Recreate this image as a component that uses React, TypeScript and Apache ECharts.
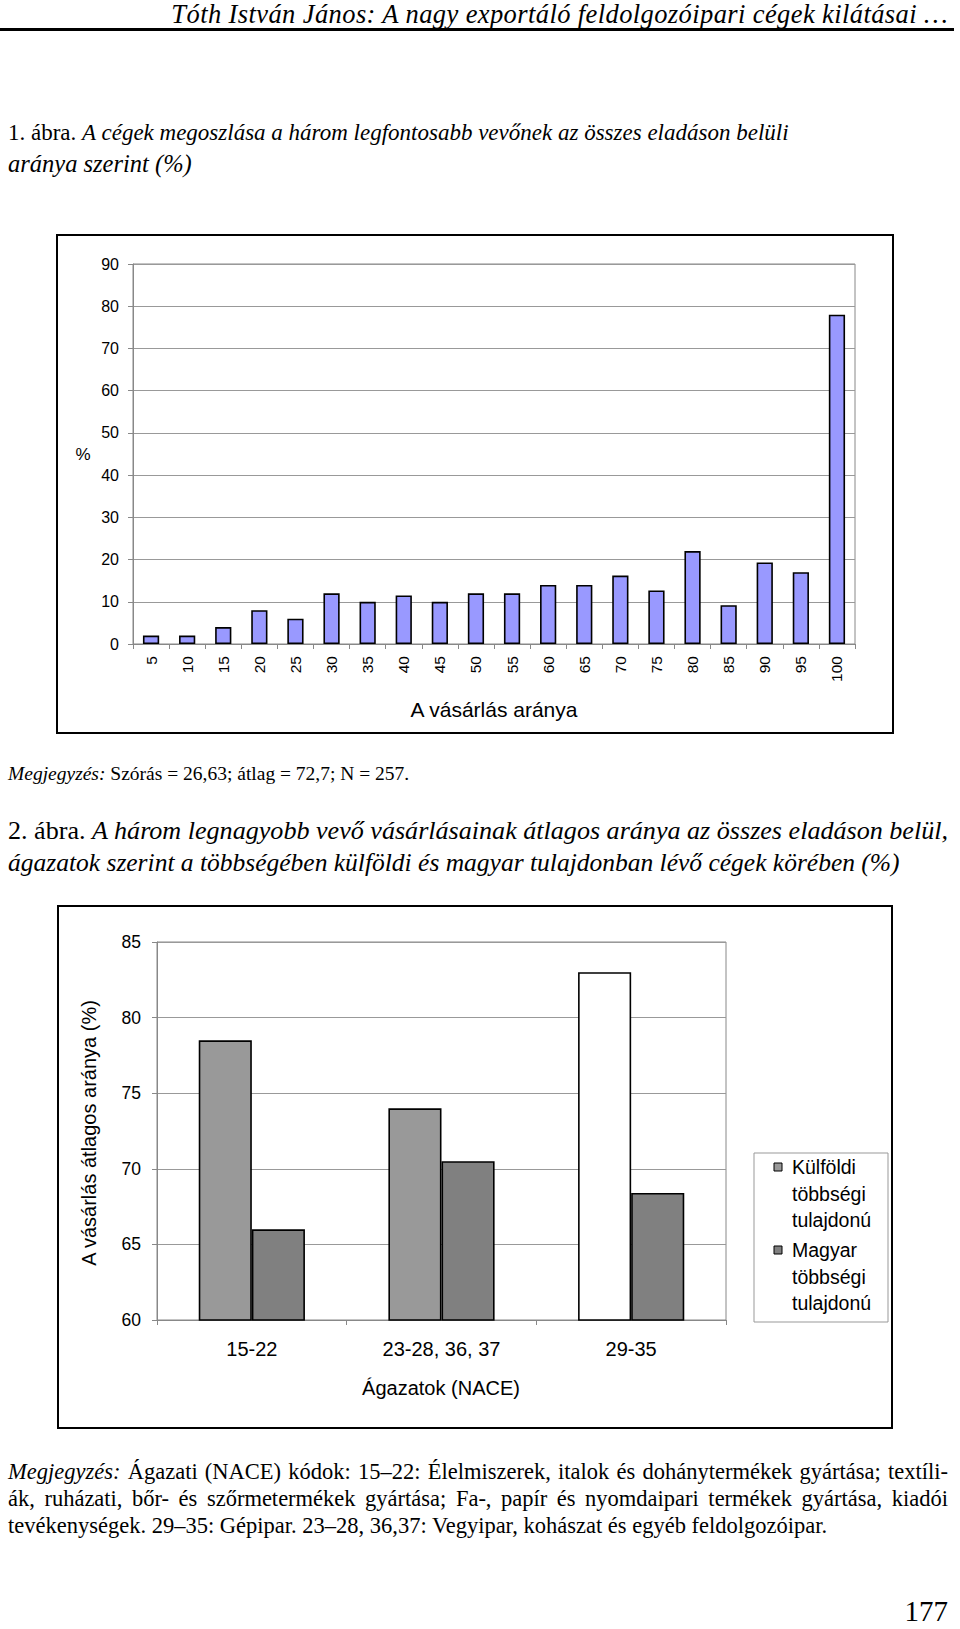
import React, { useEffect, useRef } from "react";
import * as echarts from "echarts";

// ---- Figure 1 data ----
const fig1Categories = ["5", "10", "15", "20", "25", "30", "35", "40", "45", "50", "55", "60", "65", "70", "75", "80", "85", "90", "95", "100"];
const fig1Values = [2, 2, 4, 8, 6, 12, 10, 11.5, 10, 12, 12, 14, 14, 16.2, 12.7, 22, 9.2, 19.3, 17, 78];
const fig1YMin = 0;
const fig1YMax = 90;
const fig1YStep = 10;

// ---- Figure 2 data ----
const fig2Categories = ["15-22", "23-28, 36, 37", "29-35"];
const fig2Foreign = [78.5, 74, 83];
const fig2Hungarian = [66, 70.5, 68.4];
const fig2SeriesNames = ["Külföldi többségi tulajdonú", "Magyar többségi tulajdonú"];
const fig2LegendLines = [["Külföldi", "többségi", "tulajdonú"], ["Magyar", "többségi", "tulajdonú"]];
const fig2YMin = 60;
const fig2YMax = 85;
const fig2YStep = 5;

const SANS = '"Liberation Sans", Arial, sans-serif';
const SERIF = '"Liberation Serif", "Times New Roman", serif';

function Chart1() {
  const ref = useRef<HTMLDivElement>(null);
  useEffect(() => {
    const chart = echarts.init(ref.current!, null, { renderer: "svg" });
    chart.setOption({
      animation: false,
      textStyle: { fontFamily: SANS },
      grid: { left: 77, top: 30, right: 39, bottom: 90, show: true, borderColor: "#888", borderWidth: 1 },
      xAxis: {
        type: "category",
        data: fig1Categories,
        axisLine: { lineStyle: { color: "#888", width: 1 } },
        axisTick: { show: true, length: 5, lineStyle: { color: "#888" } },
        axisLabel: { rotate: 90, fontSize: 15.5, color: "#000", margin: 12, fontFamily: SANS },
      },
      yAxis: {
        type: "value",
        min: fig1YMin,
        max: fig1YMax,
        interval: fig1YStep,
        axisLine: { show: true, lineStyle: { color: "#888", width: 1 } },
        axisTick: { show: true, length: 5, lineStyle: { color: "#888" } },
        axisLabel: { fontSize: 16, color: "#000", margin: 14, fontFamily: SANS },
        splitLine: { lineStyle: { color: "#999", width: 1 } },
      },
      series: [
        {
          type: "bar",
          name: "A vásárlás aránya",
          data: fig1Values,
          barCategoryGap: "55%",
          itemStyle: { color: "#9999FF", borderColor: "#000", borderWidth: 1.6 },
        },
      ],
      graphic: [
        { type: "rect", shape: { x: 1, y: 1, width: 836, height: 498 }, style: { fill: "none", stroke: "#000", lineWidth: 2 }, silent: true },
        { type: "text", x: 27, y: 220, style: { text: "%", fontSize: 17, fontFamily: SANS, fill: "#000", align: "center", verticalAlign: "middle" } },
        { type: "text", x: 438, y: 475, style: { text: "A vásárlás aránya", fontSize: 21, fontFamily: SANS, fill: "#000", align: "center", verticalAlign: "middle" } },
      ],
    });
    return () => chart.dispose();
  }, []);
  return <div ref={ref} style={{ position: "absolute", left: 56, top: 234, width: 838, height: 500 }} />;
}

function Chart2() {
  const ref = useRef<HTMLDivElement>(null);
  useEffect(() => {
    const chart = echarts.init(ref.current!, null, { renderer: "svg" });
    const legendGraphics: any[] = [
      { type: "rect", shape: { x: 697, y: 248, width: 134, height: 169 }, style: { fill: "#fff", stroke: "#999", lineWidth: 1 } },
    ];
    const markerColors = ["#999999", "#808080"];
    const firstLineY = [262, 345];
    fig2LegendLines.forEach((lines, i) => {
      legendGraphics.push({
        type: "rect",
        shape: { x: 717, y: firstLineY[i] - 4, width: 8, height: 8 },
        style: { fill: markerColors[i], stroke: "#000", lineWidth: 1 },
      });
      legendGraphics.push({
        type: "text",
        x: 735,
        y: firstLineY[i] - 13,
        style: { text: lines.join("\n"), fontSize: 19.5, lineHeight: 26.5, fontFamily: SANS, fill: "#000", align: "left", verticalAlign: "top" },
      });
    });
    chart.setOption({
      animation: false,
      textStyle: { fontFamily: SANS },
      legend: { show: false, data: fig2SeriesNames },
      grid: { left: 100, top: 37, right: 167, bottom: 109, show: true, borderColor: "#888", borderWidth: 1 },
      xAxis: {
        type: "category",
        data: fig2Categories,
        axisLine: { lineStyle: { color: "#888", width: 1 } },
        axisTick: { show: true, length: 5, lineStyle: { color: "#888" } },
        axisLabel: { fontSize: 20, color: "#000", margin: 19, fontFamily: SANS },
      },
      yAxis: {
        type: "value",
        min: fig2YMin,
        max: fig2YMax,
        interval: fig2YStep,
        axisLine: { show: true, lineStyle: { color: "#888", width: 1 } },
        axisTick: { show: true, length: 5, lineStyle: { color: "#888" } },
        axisLabel: { fontSize: 17.5, color: "#000", margin: 16, fontFamily: SANS },
        splitLine: { lineStyle: { color: "#999", width: 1 } },
      },
      series: [
        {
          type: "bar",
          name: fig2SeriesNames[0],
          data: fig2Foreign.map((v, i) => (i === 2 ? { value: v, itemStyle: { color: "#ffffff" } } : v)),
          barCategoryGap: "44%",
          barGap: "0%",
          itemStyle: { color: "#999999", borderColor: "#000", borderWidth: 1.6 },
        },
        {
          type: "bar",
          name: fig2SeriesNames[1],
          data: fig2Hungarian,
          barCategoryGap: "44%",
          barGap: "0%",
          itemStyle: { color: "#808080", borderColor: "#000", borderWidth: 1.6 },
        },
      ],
      graphic: [
        { type: "rect", shape: { x: 1, y: 1, width: 834, height: 522 }, style: { fill: "none", stroke: "#000", lineWidth: 2 }, silent: true },
        { type: "text", x: 32, y: 228, rotation: Math.PI / 2, style: { text: "A vásárlás átlagos aránya (%)", fontSize: 20, fontFamily: SANS, fill: "#000", align: "center", verticalAlign: "middle" } },
        { type: "text", x: 384, y: 483, style: { text: "Ágazatok (NACE)", fontSize: 20, fontFamily: SANS, fill: "#000", align: "center", verticalAlign: "middle" } },
        ...legendGraphics,
      ],
    });
    return () => chart.dispose();
  }, []);
  return <div ref={ref} style={{ position: "absolute", left: 57, top: 905, width: 836, height: 524 }} />;
}

const line = (center: number, fontSize: number, extra: React.CSSProperties = {}): React.CSSProperties => ({
  position: "absolute",
  left: 8,
  top: center - 15,
  fontFamily: SERIF,
  fontSize,
  lineHeight: "30px",
  height: 30,
  whiteSpace: "nowrap",
  color: "#000",
  ...extra,
});

export default function App() {
  const justify: React.CSSProperties = { width: 940, whiteSpace: "normal", textAlign: "justify", textAlignLast: "justify" };
  return (
    <div style={{ position: "absolute", left: 0, top: 0, width: 960, height: 1629, background: "#fff", overflow: "hidden" }}>
      <div style={line(14, 26.5, { left: "auto", right: 12, fontStyle: "italic", top: 0, lineHeight: "29px", height: 29, letterSpacing: "0.4px", textAlign: "right" })}>
        Tóth István János: A nagy exportáló feldolgozóipari cégek kilátásai …
      </div>
      <div style={{ position: "absolute", left: 0, top: 28, width: 954, height: 3, background: "#000" }} />

      <div style={line(133, 23)}>
        1. ábra. <i>A cégek megoszlása a három legfontosabb vevőnek az összes eladáson belüli</i>
      </div>
      <div style={line(164, 24.5)}>
        <i>aránya szerint (%)</i>
      </div>

      <Chart1 />

      <div style={line(774, 19.5)}>
        <i>Megjegyzés:</i> Szórás = 26,63; átlag = 72,7; N = 257.
      </div>

      <div style={line(831, 26.1)}>
        2. ábra. <i>A három legnagyobb vevő vásárlásainak átlagos aránya az összes eladáson belül,</i>
      </div>
      <div style={line(863, 25.5)}>
        <i>ágazatok szerint a többségében külföldi és magyar tulajdonban lévő cégek körében (%)</i>
      </div>

      <Chart2 />

      <div style={line(1472, 22.5, justify)}>
        <i>Megjegyzés:</i> Ágazati (NACE) kódok: 15–22: Élelmiszerek, italok és dohánytermékek gyártása; textíli-
      </div>
      <div style={line(1499, 22.5, justify)}>
        ák, ruházati, bőr- és szőrmetermékek gyártása; Fa-, papír és nyomdaipari termékek gyártása, kiadói
      </div>
      <div style={line(1526, 22.5)}>
        tevékenységek. 29–35: Gépipar. 23–28, 36,37: Vegyipar, kohászat és egyéb feldolgozóipar.
      </div>

      <div style={line(1611, 29, { left: "auto", right: 12, textAlign: "right" })}>177</div>
    </div>
  );
}
